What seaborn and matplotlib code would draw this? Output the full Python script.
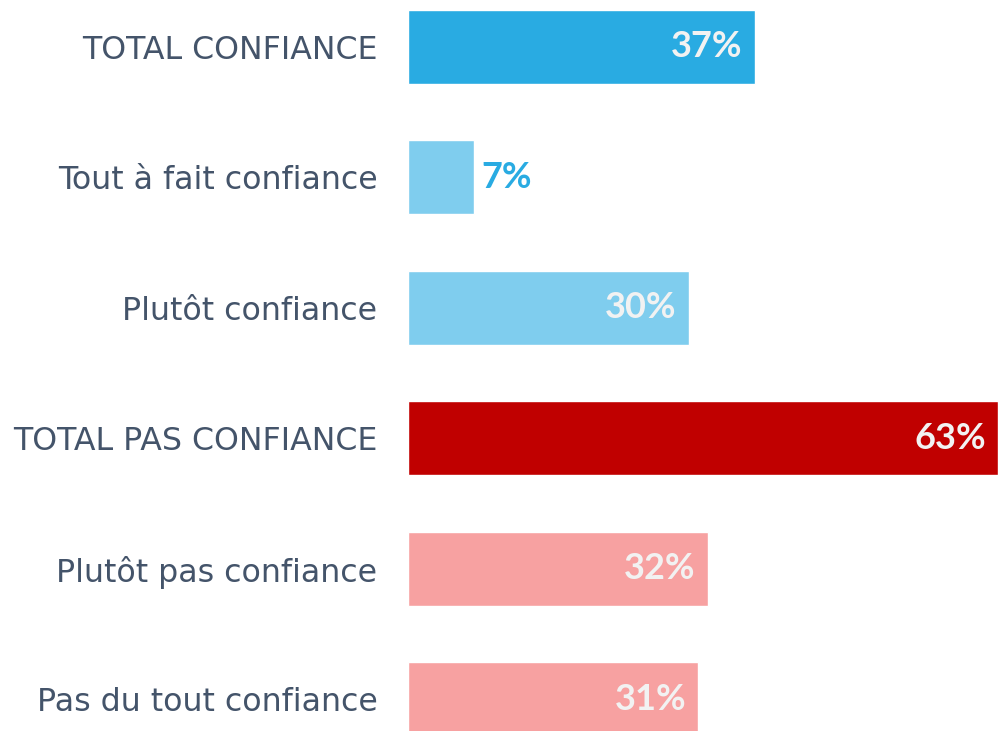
import pandas as pd
import matplotlib.pyplot as plt
import seaborn as sns

# Donnees du graphique
categories = ["TOTAL CONFIANCE", "Tout à fait confiance", "Plutôt confiance",
              "TOTAL PAS CONFIANCE", "Plutôt pas confiance", "Pas du tout confiance"]
valeurs = [37, 7, 30, 63, 32, 31]
couleurs = ["#29ABE2", "#7FCDEE", "#7FCDEE", "#C00000", "#F7A1A1", "#F7A1A1"]

data = pd.DataFrame({"Categorie": categories, "Valeur": valeurs})

sns.set_style("white")
plt.rcParams["font.family"] = ["Lato", "DejaVu Sans"]

fig = plt.figure(figsize=(9.98, 7.31), dpi=100)
ax = fig.add_axes([408 / 998, 0, 590 / 998, 1])

sns.barplot(data=data, x="Valeur", y="Categorie", hue="Categorie",
            palette=couleurs, legend=False, width=0.567, saturation=1,
            ax=ax)

ax.set_xlim(0, 63)
ax.set_ylim(5.245, -0.36)
ax.set_xlabel("")
ax.set_ylabel("")
ax.set_xticks([])
sns.despine(ax=ax, left=True, bottom=True)
ax.tick_params(axis="y", length=0, pad=22, labelcolor="#44546A")
for lab in ax.get_yticklabels():
    lab.set_fontfamily("DejaVu Sans")
    lab.set_fontsize(22.8)

# Etiquettes des valeurs
for i, v in enumerate(valeurs):
    if v < 10:
        ax.text(v + 0.8, i, f"{v}%", va="center", ha="left",
                fontsize=26, fontweight="bold", color="#29ABE2")
    else:
        ax.text(v - 1.3, i, f"{v}%", va="center", ha="right",
                fontsize=26, fontweight="bold", color="#F2F2F2")

fig.savefig("out.png", dpi=100)
